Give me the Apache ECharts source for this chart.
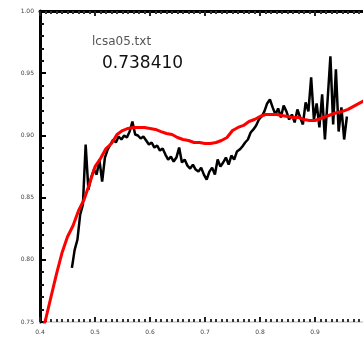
<!DOCTYPE html>
<html>
<head>
<meta charset="utf-8">
<script src="https://cdn.jsdelivr.net/npm/echarts@6/dist/echarts.min.js"></script>
<style>
  html, body { margin: 0; padding: 0; background: #fff; }
  #chart { width: 363px; height: 339px; }
</style>
</head>
<body>
<div id="chart"></div>
<script>
// 文件名和数值标注
const fileLabel = 'lcsa05.txt';
const valueLabel = '0.738410';

// 坐标轴刻度
const xTicks = [0.4, 0.5, 0.6, 0.7, 0.8, 0.9, 1.0];
const yTicks = [0.75, 0.80, 0.85, 0.90, 0.95, 1.00];

// 观测数据 (黑线)
const obsWave = [
    0.458, 0.463, 0.468, 0.473, 0.478, 0.483, 0.488, 0.493, 0.498, 0.503,
    0.508, 0.513, 0.518, 0.523, 0.528, 0.533, 0.538, 0.543, 0.548, 0.553,
    0.558, 0.563, 0.568, 0.573, 0.578, 0.583, 0.588, 0.593, 0.598, 0.603,
    0.608, 0.613, 0.618, 0.623, 0.628, 0.633, 0.638, 0.643, 0.648, 0.653,
    0.658, 0.663, 0.668, 0.673, 0.678, 0.683, 0.688, 0.693, 0.698, 0.703,
    0.708, 0.713, 0.718, 0.723, 0.728, 0.733, 0.738, 0.743, 0.748, 0.753,
    0.758, 0.763, 0.768, 0.773, 0.778, 0.783, 0.788, 0.793, 0.798, 0.803,
    0.808, 0.813, 0.818, 0.823, 0.828, 0.833, 0.838, 0.843, 0.848, 0.853,
    0.858, 0.863, 0.868, 0.873, 0.878, 0.883, 0.888, 0.893, 0.898, 0.903,
    0.908, 0.913, 0.918, 0.923, 0.928, 0.933, 0.938, 0.943, 0.948, 0.953,
    0.958
];
const obsFlux = [
    0.7935, 0.8080, 0.8161, 0.8362, 0.8443, 0.8927, 0.8564, 0.8661, 0.8725, 0.8685,
    0.8806, 0.8628, 0.8822, 0.8886, 0.8927, 0.8967, 0.8943, 0.8991, 0.8967, 0.8999,
    0.8983, 0.9031, 0.9112, 0.9007, 0.8999, 0.8975, 0.8991, 0.8959, 0.8927, 0.8943,
    0.8902, 0.8919, 0.8878, 0.8894, 0.8846, 0.8806, 0.8830, 0.8790, 0.8822, 0.8902,
    0.8782, 0.8806, 0.8757, 0.8733, 0.8765, 0.8725, 0.8709, 0.8741, 0.8685, 0.8645,
    0.8709, 0.8741, 0.8685, 0.8806, 0.8749, 0.8782, 0.8822, 0.8765, 0.8838, 0.8806,
    0.8870, 0.8886, 0.8911, 0.8943, 0.8967, 0.9023, 0.9048, 0.9080, 0.9128, 0.9152,
    0.9193, 0.9257, 0.9289, 0.9225, 0.9168, 0.9217, 0.9144, 0.9241, 0.9193, 0.9128,
    0.9168, 0.9104, 0.9209, 0.9144, 0.9088, 0.9265, 0.9193, 0.9467, 0.9128, 0.9257,
    0.9064, 0.9330, 0.8967, 0.9289, 0.9636, 0.9088, 0.9531, 0.9031, 0.9225, 0.8967,
    0.9152
];

// 模型曲线 (红线)
const modelWave = [
    0.40, 0.41, 0.42, 0.43, 0.44, 0.45, 0.46, 0.47, 0.48, 0.49,
    0.50, 0.51, 0.52, 0.53, 0.54, 0.55, 0.56, 0.57, 0.58, 0.59,
    0.60, 0.61, 0.62, 0.63, 0.64, 0.65, 0.66, 0.67, 0.68, 0.69,
    0.70, 0.71, 0.72, 0.73, 0.74, 0.75, 0.76, 0.77, 0.78, 0.79,
    0.80, 0.81, 0.82, 0.83, 0.84, 0.85, 0.86, 0.87, 0.88, 0.89,
    0.90, 0.91, 0.92, 0.93, 0.94, 0.95, 0.96, 0.97, 0.98, 0.99,
    1.00
];
const modelFlux = [
    0.7387, 0.7516, 0.7702, 0.7887, 0.8056, 0.8185, 0.8274, 0.8395, 0.8483, 0.8612,
    0.8749, 0.8814, 0.8894, 0.8935, 0.9007, 0.9039, 0.9056, 0.9064, 0.9064, 0.9064,
    0.9056, 0.9048, 0.9031, 0.9015, 0.9007, 0.8983, 0.8967, 0.8959, 0.8943, 0.8943,
    0.8935, 0.8935, 0.8943, 0.8959, 0.8983, 0.9039, 0.9064, 0.9080, 0.9112, 0.9128,
    0.9152, 0.9168, 0.9168, 0.9168, 0.9160, 0.9152, 0.9144, 0.9144, 0.9128, 0.9120,
    0.9120, 0.9136, 0.9152, 0.9168, 0.9184, 0.9193, 0.9209, 0.9233, 0.9257, 0.9281,
    0.9305
];

const chart = echarts.init(document.getElementById('chart'));

const tickFont = { fontSize: 6, color: '#444', fontFamily: 'DejaVu Sans' };

chart.setOption({
    animation: false,
    backgroundColor: '#fff',
    grid: { left: 40, top: 11, width: 330, height: 311, outerBoundsMode: 'none', containLabel: false },
    xAxis: [{
        type: 'value',
        position: 'bottom',
        min: xTicks[0],
        max: xTicks[xTicks.length - 1],
        interval: 0.1,
        axisLine: { lineStyle: { color: '#d8d8d8', width: 2 } },
        axisTick: { inside: true, length: 5, lineStyle: { color: '#222', width: 2 } },
        minorTick: { show: true, splitNumber: 10, length: 3, lineStyle: { color: '#333', width: 2 } },
        splitLine: { show: false },
        axisLabel: Object.assign({ margin: 7, formatter: v => v.toFixed(1) }, tickFont)
    }, {
        type: 'value',
        position: 'top',
        min: xTicks[0],
        max: xTicks[xTicks.length - 1],
        interval: 0.1,
        axisLine: { lineStyle: { color: '#000', width: 3 } },
        axisTick: { inside: true, length: 5, lineStyle: { color: '#222', width: 2 } },
        minorTick: { show: true, splitNumber: 10, length: 3, lineStyle: { color: '#333', width: 2 } },
        splitLine: { show: false },
        axisLabel: { show: false }
    }],
    yAxis: {
        type: 'value',
        min: yTicks[0],
        max: yTicks[yTicks.length - 1],
        interval: 0.05,
        axisLine: { show: true, lineStyle: { color: '#000', width: 3 } },
        axisTick: { inside: true, length: 6, lineStyle: { color: '#000', width: 2 } },
        minorTick: { show: true, splitNumber: 5, length: 4, lineStyle: { color: '#111', width: 2 } },
        splitLine: { show: false },
        axisLabel: Object.assign({ margin: 6, formatter: v => v.toFixed(2) }, tickFont)
    },
    graphic: [{
        type: 'text',
        left: 92, top: 36,
        style: { text: fileLabel, fontSize: 12, fill: '#555', fontFamily: 'DejaVu Sans' }
    }, {
        type: 'text',
        left: 102, top: 55,
        style: { text: valueLabel, fontSize: 17, fill: '#111', fontFamily: 'DejaVu Sans' }
    }],
    series: [{
        name: 'obs',
        type: 'line',
        showSymbol: false,
        data: obsWave.map((w, i) => [w, obsFlux[i]]),
        lineStyle: { color: '#000', width: 2.5 },
        z: 2
    }, {
        name: 'model',
        type: 'line',
        showSymbol: false,
        data: modelWave.map((w, i) => [w, modelFlux[i]]),
        lineStyle: { color: '#ff0000', width: 3 },
        z: 3
    }]
});
</script>
</body>
</html>
